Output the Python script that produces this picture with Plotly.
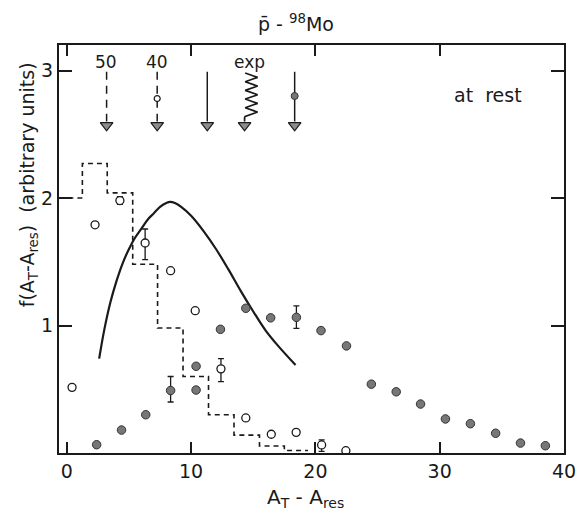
import plotly.graph_objects as go

# ---------------- data ----------------
# filled (grey) points
fill_x = [2.4, 4.4, 6.35, 8.35, 10.4, 10.4, 12.36, 14.4, 16.4, 18.47, 20.45, 22.5, 24.5, 26.5, 28.46, 30.46, 32.47, 34.5, 36.5, 38.5]
fill_y = [0.065, 0.18, 0.30, 0.49, 0.68, 0.494, 0.97, 1.135, 1.06, 1.064, 0.96, 0.84, 0.54, 0.48, 0.384, 0.267, 0.23, 0.155, 0.078, 0.057]
fill_err_plus = [0, 0, 0, 0.11, 0, 0, 0, 0, 0, 0.09, 0, 0, 0, 0, 0, 0, 0, 0, 0, 0]
fill_err_minus = [0, 0, 0, 0.09, 0, 0, 0, 0, 0, 0.086, 0, 0, 0, 0, 0, 0, 0, 0, 0, 0]

# open points
open_x = [0.42, 2.27, 4.27, 6.3, 8.35, 10.33, 12.4, 14.4, 16.45, 18.45, 20.5, 22.45]
open_y = [0.515, 1.79, 1.98, 1.647, 1.43, 1.116, 0.66, 0.275, 0.147, 0.162, 0.063, 0.018]
open_err_plus = [0, 0, 0.03, 0.11, 0, 0, 0.08, 0, 0, 0, 0.04, 0]
open_err_minus = [0, 0, 0.03, 0.13, 0, 0, 0.10, 0, 0, 0, 0.05, 0]

# solid theory curve
curve_x = [2.6, 3.0, 3.5, 4.0, 4.5, 5.0, 5.5, 6.0, 6.5, 7.0, 7.5, 8.0, 8.3, 8.7, 9.2, 10.0, 11.0, 12.0, 13.0, 14.0, 15.0, 16.0, 17.0, 18.4]
curve_y = [0.74, 0.96, 1.18, 1.35, 1.49, 1.60, 1.69, 1.76, 1.83, 1.88, 1.93, 1.96, 1.97, 1.96, 1.93, 1.86, 1.74, 1.60, 1.44, 1.27, 1.11, 0.96, 0.84, 0.69]

# dashed histogram
hist_edges = [-0.6, 1.25, 3.25, 5.3, 7.3, 9.35, 11.4, 13.45, 15.5, 17.5, 19.4]
hist_vals = [2.0, 2.27, 2.04, 1.48, 0.98, 0.60, 0.30, 0.14, 0.055, 0.02]

# arrows at top
arrow_x = [3.2, 7.27, 11.3, 14.3, 18.33]
arrow_labels = ["50", "40", "", "exp", ""]
arrow_label_x = [3.13, 7.26, 11.3, 14.7, 18.33]
arrow_dash = ["dash", "dash", "solid", "zig", "solid"]
arrow_top = 2.99
arrow_head_y = 2.57
arrow_label_y = 3.07
arrow_marker_open = (7.27, 2.78)
arrow_marker_fill = (18.33, 2.80)

# zigzag ("exp") geometry
zig_left = 14.35
zig_right = 15.35
zig_top = 2.98
zig_bottom = 2.64
zig_peaks = 5

x_ticks = [0, 10, 20, 30, 40]
y_ticks = [1, 2, 3]

FONT = "DejaVu Sans"
INK = "#1a1a1a"

fig = go.Figure()

# histogram
fig.add_trace(go.Scatter(
    x=hist_edges, y=hist_vals + [hist_vals[-1]], mode="lines",
    line=dict(color=INK, width=1.6, dash="5px,4px", shape="hv"),
    showlegend=False, hoverinfo="skip"))

# theory curve
fig.add_trace(go.Scatter(
    x=curve_x, y=curve_y, mode="lines",
    line=dict(color=INK, width=2.2, shape="spline", smoothing=1.0),
    showlegend=False, hoverinfo="skip"))

# open points
fig.add_trace(go.Scatter(
    x=open_x, y=open_y, mode="markers",
    marker=dict(symbol="circle", size=8, color="white", line=dict(color=INK, width=1.3)),
    error_y=dict(type="data", symmetric=False, array=open_err_plus, arrayminus=open_err_minus,
                 color=INK, thickness=1.3, width=3),
    showlegend=False))

# filled points
fig.add_trace(go.Scatter(
    x=fill_x, y=fill_y, mode="markers",
    marker=dict(symbol="circle", size=8.5, color="#777777", line=dict(color="#333333", width=1)),
    error_y=dict(type="data", symmetric=False, array=fill_err_plus, arrayminus=fill_err_minus,
                 color=INK, thickness=1.3, width=3),
    showlegend=False))

# arrows
for ax, style in zip(arrow_x, arrow_dash):
    if style == "zig":
        zx = [zig_left]
        zy = [zig_top]
        n = zig_peaks * 2
        for i in range(1, n + 1):
            zx.append(zig_right if i % 2 == 1 else zig_left)
            zy.append(zig_top - (zig_top - zig_bottom) * i / n)
        zx += [ax, ax]
        zy += [zig_bottom - 0.01, arrow_head_y + 0.03]
        fig.add_trace(go.Scatter(x=zx, y=zy, mode="lines", line=dict(color=INK, width=1.7),
                                 showlegend=False, hoverinfo="skip"))
    else:
        fig.add_trace(go.Scatter(
            x=[ax, ax], y=[arrow_top, arrow_head_y + 0.03], mode="lines",
            line=dict(color=INK, width=1.5, dash=("8px,6px" if style == "dash" else "solid")),
            showlegend=False, hoverinfo="skip"))

fig.add_trace(go.Scatter(
    x=arrow_x, y=[arrow_head_y] * len(arrow_x), mode="markers",
    marker=dict(symbol="triangle-down", size=11, color="#8c8c8c", line=dict(color=INK, width=1.2)),
    showlegend=False, hoverinfo="skip"))

fig.add_trace(go.Scatter(
    x=[arrow_marker_open[0]], y=[arrow_marker_open[1]], mode="markers",
    marker=dict(symbol="circle", size=6, color="white", line=dict(color=INK, width=1.2)),
    showlegend=False, hoverinfo="skip"))
fig.add_trace(go.Scatter(
    x=[arrow_marker_fill[0]], y=[arrow_marker_fill[1]], mode="markers",
    marker=dict(symbol="circle", size=7, color="#777777", line=dict(color="#333333", width=1)),
    showlegend=False, hoverinfo="skip"))

annotations = []
for lx, lab in zip(arrow_label_x, arrow_labels):
    if lab:
        annotations.append(dict(x=lx, y=arrow_label_y, xref="x", yref="y", text=lab,
                                showarrow=False, font=dict(size=17, color=INK, family=FONT)))

annotations.append(dict(x=33.9, y=2.81, xref="x", yref="y", text="at  rest", showarrow=False,
                        font=dict(size=19, color=INK, family=FONT)))

annotations += [
    dict(x=0.47, y=1, xref="paper", yref="paper", yanchor="bottom", yshift=8,
         text="p\u0304 - <sup>98</sup>Mo", showarrow=False,
         font=dict(size=19, color=INK, family=FONT)),
    dict(x=0, y=2.1, xref="paper", yref="y", xanchor="center", yanchor="middle", xshift=-31,
         textangle=-90, text="f(A<sub>T</sub>-A<sub>res</sub>)  (arbitrary units)", showarrow=False,
         font=dict(size=19, color=INK, family=FONT)),
    dict(x=19.2, y=0, xref="x", yref="paper", yanchor="top", yshift=-30,
         text="A<sub>T</sub> - A<sub>res</sub>", showarrow=False,
         font=dict(size=20, color=INK, family=FONT)),
]

fig.update_layout(
    width=588, height=522,
    margin=dict(l=59, r=15, t=45, b=69),
    paper_bgcolor="white", plot_bgcolor="white",
    font=dict(family=FONT, size=19, color=INK),
    xaxis=dict(range=[-0.63, 40.0], tickvals=x_ticks, ticks="inside", ticklen=11, tickwidth=1.5,
               tickcolor=INK, mirror="allticks", showline=True, linewidth=2, linecolor=INK,
               showgrid=False, zeroline=False, tickfont=dict(size=19)),
    yaxis=dict(range=[0, 3.2], tickvals=y_ticks, ticks="inside", ticklen=13, tickwidth=1.5,
               tickcolor=INK, mirror="allticks", showline=True, linewidth=2, linecolor=INK,
               showgrid=False, zeroline=False, tickfont=dict(size=19)),
    annotations=annotations,
)

fig.write_html("out.html")
